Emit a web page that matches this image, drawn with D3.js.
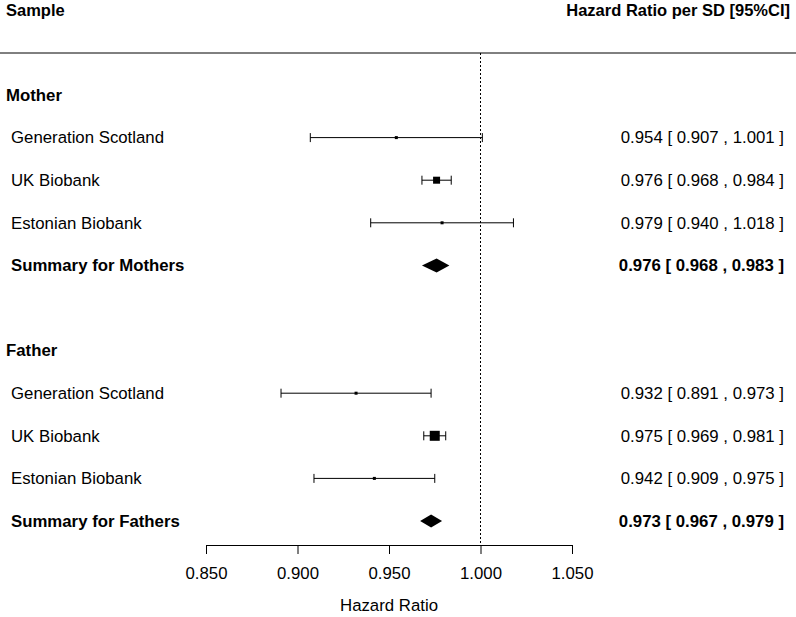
<!DOCTYPE html>
<html><head><meta charset="utf-8">
<script src="https://cdn.jsdelivr.net/npm/d3@7"></script>
<style>body{margin:0;background:#fff}svg{display:block}text{font-family:"Liberation Sans",Arial,sans-serif;fill:#000}</style>
</head><body><svg id="c" width="796" height="617"></svg>
<script>
const groups = ["Mother", "Father"];
const studies = ["Generation Scotland", "UK Biobank", "Estonian Biobank"];
const summaryLabels = ["Summary for Mothers", "Summary for Fathers"];
const motherHR = [0.954, 0.976, 0.979];
const motherLo = [0.907, 0.968, 0.940];
const motherHi = [1.001, 0.984, 1.018];
const fatherHR = [0.932, 0.975, 0.942];
const fatherLo = [0.891, 0.969, 0.909];
const fatherHi = [0.973, 0.981, 0.975];
const summaryHR = [0.976, 0.973];
const summaryLo = [0.968, 0.967];
const summaryHi = [0.983, 0.979];
const motherWeight = [0.3, 7, 0.3];
const fatherWeight = [0.3, 10, 0.3];
const xTicks = [0.85, 0.9, 0.95, 1.0, 1.05];

const svg = d3.select("#c");
const x = d3.scaleLinear().domain([0.85, 1.05]).range([206, 572]);
const y = d3.scaleLinear().domain([0, 10]).range([95, 521]);
const fmt = d3.format(".3f");
const FS = 16.8;

svg.append("text").attr("x", 6).attr("y", 16).attr("font-size", 16.5).attr("font-weight", "bold").text("Sample");
svg.append("text").attr("x", 790).attr("y", 16).attr("font-size", 16.5).attr("font-weight", "bold").attr("text-anchor", "end").text("Hazard Ratio per SD [95%CI]");
svg.append("line").attr("x1", 0).attr("x2", 796).attr("y1", 53).attr("y2", 53).attr("stroke", "#000").attr("stroke-width", 1);

svg.append("line").attr("x1", x(1)).attr("x2", x(1)).attr("y1", 53).attr("y2", 545)
  .attr("stroke", "#000").attr("stroke-dasharray", "2,2").attr("stroke-width", 1);

const data = [
  {hr: motherHR, lo: motherLo, hi: motherHi, w: motherWeight},
  {hr: fatherHR, lo: fatherLo, hi: fatherHi, w: fatherWeight}
];

groups.forEach((g, gi) => {
  const base = gi * 6;
  svg.append("text").attr("x", 6).attr("y", y(base)).attr("dy", "0.35em").attr("font-size", FS).attr("font-weight", "bold").text(g);
  studies.forEach((s, si) => {
    const yy = y(base + 1 + si);
    const d = data[gi];
    svg.append("text").attr("x", 11).attr("y", yy).attr("dy", "0.35em").attr("font-size", FS).text(s);
    svg.append("line").attr("x1", x(d.lo[si])).attr("x2", x(d.hi[si])).attr("y1", yy).attr("y2", yy).attr("stroke", "#000");
    [d.lo[si], d.hi[si]].forEach(v => svg.append("line").attr("x1", x(v)).attr("x2", x(v)).attr("y1", yy - 4.5).attr("y2", yy + 4.5).attr("stroke", "#000"));
    const sz = Math.max(3, d.w[si]);
    svg.append("rect").attr("x", x(d.hr[si]) - sz / 2).attr("y", yy - sz / 2).attr("width", sz).attr("height", sz).attr("fill", "#000");
    svg.append("text").attr("x", 784).attr("y", yy).attr("dy", "0.35em").attr("font-size", FS).attr("text-anchor", "end")
      .text(`${fmt(d.hr[si])} [ ${fmt(d.lo[si])} , ${fmt(d.hi[si])} ]`);
  });
  const ys = y(base + 4);
  svg.append("text").attr("x", 11).attr("y", ys).attr("dy", "0.35em").attr("font-size", FS).attr("font-weight", "bold").text(summaryLabels[gi]);
  const hh = gi === 0 ? 7 : 6.5;
  svg.append("path").attr("d", `M${x(summaryLo[gi])},${ys}L${x(summaryHR[gi])},${ys - hh}L${x(summaryHi[gi])},${ys}L${x(summaryHR[gi])},${ys + hh}Z`).attr("fill", "#000");
  svg.append("text").attr("x", 784).attr("y", ys).attr("dy", "0.35em").attr("font-size", FS).attr("font-weight", "bold").attr("text-anchor", "end")
    .text(`${fmt(summaryHR[gi])} [ ${fmt(summaryLo[gi])} , ${fmt(summaryHi[gi])} ]`);
});

const ax = svg.append("g").attr("transform", "translate(0,545)")
  .call(d3.axisBottom(x).tickValues(xTicks).tickFormat(fmt).tickSize(9).tickPadding(13));
ax.select(".domain").attr("d", `M${x(0.85)},0.5H${x(1.05)}`);
ax.selectAll("text").attr("font-size", FS).attr("font-family", "Liberation Sans, Arial, sans-serif");
ax.selectAll("line,path").attr("stroke", "#000");
svg.append("text").attr("x", x(0.95)).attr("y", 611).attr("font-size", FS).attr("text-anchor", "middle").text("Hazard Ratio");
</script></body></html>
